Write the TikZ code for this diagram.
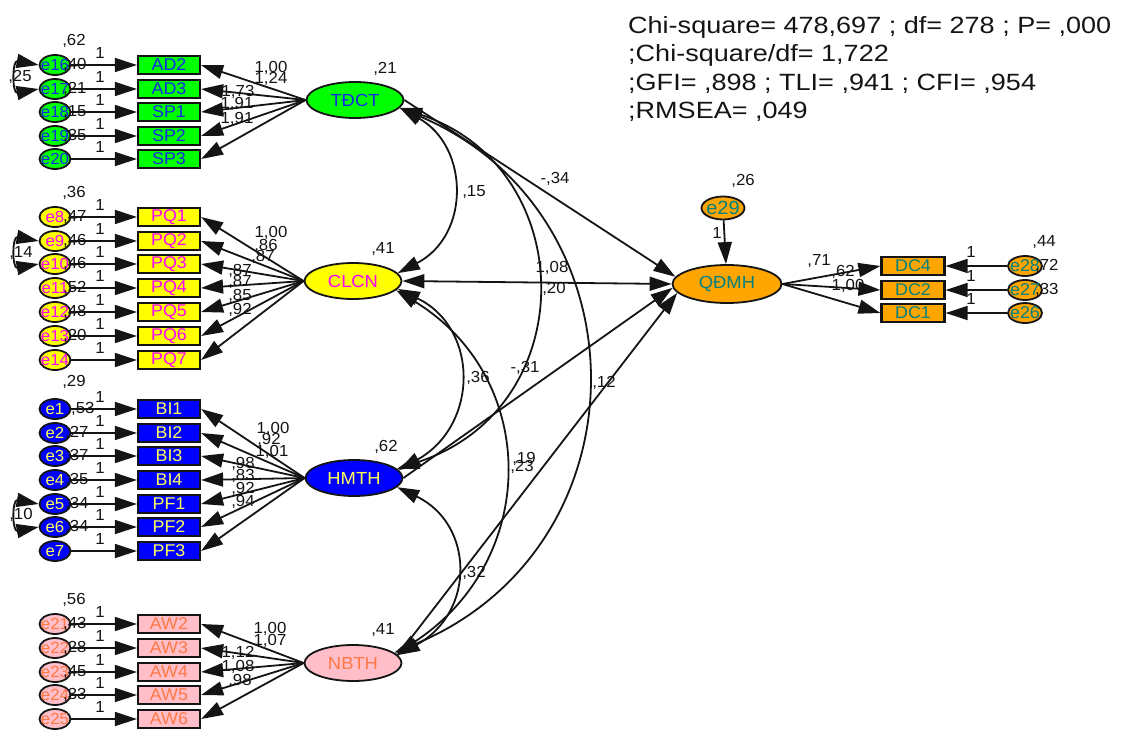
\documentclass[tikz,border=0pt]{standalone}
\usepackage{fontspec}
\setmainfont{Liberation Sans}[FakeStretch=1.05]
\newfontfamily\hdrfont{Liberation Sans}[FakeStretch=1.15]
\usetikzlibrary{arrows.meta,shapes.geometric}

\definecolor{grnF}{RGB}{0,255,0}
\definecolor{grnT}{RGB}{20,40,230}
\definecolor{yelF}{RGB}{255,255,0}
\definecolor{yelT}{RGB}{255,0,255}
\definecolor{bluF}{RGB}{0,0,255}
\definecolor{bluT}{RGB}{255,255,90}
\definecolor{pnkF}{RGB}{255,190,200}
\definecolor{pnkT}{RGB}{255,120,70}
\definecolor{orgF}{RGB}{255,165,0}
\definecolor{orgT}{RGB}{0,128,128}
\definecolor{ink}{RGB}{20,20,20}

\begin{document}
\begin{tikzpicture}[x=1pt,y=-1pt,
  lat/.style={ellipse, draw=ink, line width=1.8pt, minimum width=97pt,
    minimum height=36pt, inner sep=0pt, font=\fontsize{17.5}{17.5}\selectfont},
  obs/.style={rectangle, draw=ink, line width=2.2pt, minimum width=62pt,
    minimum height=18pt, inner sep=0pt, font=\fontsize{17}{17}\selectfont},
  err/.style={ellipse, draw=ink, line width=1.8pt, minimum width=31pt,
    minimum height=20pt, inner sep=0pt},
  etx/.style={inner sep=0pt, font=\fontsize{16}{16}\selectfont},
  ar/.style={-{Triangle[length=22pt,width=14pt]}, line width=1.8pt, draw=ink},
  cov/.style={{Triangle[length=22pt,width=14pt]}-{Triangle[length=22pt,width=14pt]},
    line width=1.8pt, draw=ink},
  num/.style={inner sep=0pt, text=ink, font=\fontsize{16}{16}\selectfont},
  hdr/.style={inner sep=0pt, anchor=base west, text=ink,
    font=\hdrfont\fontsize{23.5}{23.5}\selectfont}]
\useasboundingbox (0,0) rectangle (1125,731);

% ---------------- latent variables ----------------
\node[lat, fill=grnF, text=grnT] (TDCT) at (355,100) {TĐCT};
\node[lat, fill=yelF, text=yelT] (CLCN) at (353,281) {CLCN};
\node[lat, fill=bluF, text=bluT] (HMTH) at (354,478) {HMTH};
\node[lat, fill=pnkF, text=pnkT] (NBTH) at (353,663) {NBTH};
\node[lat, fill=orgF, text=orgT, minimum width=109pt, minimum height=38pt] (QDMH) at (727,284) {QĐMH};

% ---------------- TĐCT block ----------------
\foreach \en/\bn/\yy/\vv in {e16/AD2/65/{,40}, e17/AD3/89/{,21}, e18/SP1/112/{,15},
    e19/SP2/136/{,35}, e20/SP3/159/{}}{
  \node[err, fill=grnF, label={[etx, text=grnT]center:\en}] (\en) at (55,\yy) {};
  \node[obs, fill=grnF, text=grnT] (\bn) at (169,\yy) {\bn};
  \draw[ar] (\en) -- (\bn);
  \draw[ar] (TDCT.west) -- (\bn.east);
  \node[num, anchor=west] (v\en) at (63,\yy) {\vv};
  \node[num] (one\en) at (100,\yy-12) {1};
}

% ---------------- CLCN block ----------------
\foreach \en/\bn/\yy/\vv in {e8/PQ1/217/{,47}, e9/PQ2/241/{,46}, e10/PQ3/264/{,46},
    e11/PQ4/288/{,52}, e12/PQ5/312/{,48}, e13/PQ6/336/{,20}, e14/PQ7/360/{}}{
  \node[err, fill=yelF, label={[etx, text=yelT]center:\en}] (\en) at (55,\yy) {};
  \node[obs, fill=yelF, text=yelT] (\bn) at (169,\yy) {\bn};
  \draw[ar] (\en) -- (\bn);
  \draw[ar] (CLCN.west) -- (\bn.east);
  \node[num, anchor=west] (v\en) at (63,\yy) {\vv};
  \node[num] (one\en) at (100,\yy-12) {1};
}

% ---------------- HMTH block ----------------
\foreach \en/\bn/\yy/\vv/\vx in {e1/BI1/409/{,53}/71, e2/BI2/433/{,27}/65, e3/BI3/456/{,37}/65,
    e4/BI4/480/{,35}/65, e5/PF1/504/{,34}/65, e6/PF2/527/{,34}/65, e7/PF3/551/{}/65}{
  \node[err, fill=bluF, label={[etx, text=bluT]center:\en}] (\en) at (55,\yy) {};
  \node[obs, fill=bluF, text=bluT] (\bn) at (169,\yy) {\bn};
  \draw[ar] (\en) -- (\bn);
  \draw[ar] (HMTH.west) -- (\bn.east);
  \node[num, anchor=west] (v\en) at (\vx,\yy) {\vv};
  \node[num] (one\en) at (100,\yy-12) {1};
}

% ---------------- NBTH block ----------------
\foreach \en/\bn/\yy/\vv in {e21/AW2/624/{,43}, e22/AW3/648/{,28}, e23/AW4/672/{,45},
    e24/AW5/695/{,33}, e25/AW6/719/{}}{
  \node[err, fill=pnkF, label={[etx, text=pnkT]center:\en}] (\en) at (55,\yy) {};
  \node[obs, fill=pnkF, text=pnkT] (\bn) at (169,\yy) {\bn};
  \draw[ar] (\en) -- (\bn);
  \draw[ar] (NBTH.west) -- (\bn.east);
  \node[num, anchor=west] (v\en) at (63,\yy) {\vv};
  \node[num] (one\en) at (100,\yy-12) {1};
}

% ---------------- QĐMH block ----------------
\node[err, fill=orgF, minimum width=43pt, minimum height=23pt,
  label={[etx, text=orgT, font=\fontsize{19}{19}\selectfont]center:e29}] (e29) at (723,208) {};
\draw[ar] (e29) -- (QDMH);
\node[num] (one29) at (717,233) {1};
\node[num] (ve29) at (743,181) {,26};
\foreach \en/\bn/\yy/\vv in {e28/DC4/266/{,72}, e27/DC2/290/{,33}, e26/DC1/313/{}}{
  \node[err, fill=orgF, minimum width=34pt,
    label={[etx, text=orgT, font=\fontsize{17}{17}\selectfont]center:\en}] (\en) at (1025,\yy) {};
  \node[obs, fill=orgF, text=orgT, minimum width=63pt] (\bn) at (913,\yy) {\bn};
  \draw[ar] (\en) -- (\bn);
  \draw[ar] (QDMH.east) -- (\bn.west);
  \node[num, anchor=west] (v\en) at (1035,\yy) {\vv};
  \node[num] (one\en) at (971,\yy-14) {1};
}
\node[num] (ve28) at (1044,242) {,44};

% ---------------- variances of first error terms ----------------
\node[num] (ve16) at (74,41) {,62};
\node[num] (ve8) at (74,193) {,36};
\node[num] (ve1) at (74,382) {,29};
\node[num] (ve21) at (74,600) {,56};

% ---------------- error covariances ----------------
\node[num] (c1617) at (20,77) {,25};
\node[num] (c0910) at (21,253) {,14};
\node[num] (c0506) at (21,515) {,10};
\draw[cov] (e16.west) .. controls (12,60) and (12,94) .. (e17.west);
\draw[cov] (e9.west) .. controls (12,236) and (12,269) .. (e10.west);
\draw[cov] (e5.west) .. controls (12,499) and (12,532) .. (e6.west);

% ---------------- factor loadings ----------------
\foreach \tx/\xx/\yy [count=\i] in {{1,00}/271/68, {1,24}/271/79, {1,73}/238/92, {1,91}/237/104, {1,91}/237/119,
    {1,00}/271/233, {,86}/266/246, {,87}/263/257, {,87}/240/271, {,87}/240/282, {,85}/240/296, {,92}/240/310,
    {1,00}/273/429, {,92}/269/440, {1,01}/272/452, {,98}/243/464, {,83}/243/476, {,92}/243/489, {,94}/243/502,
    {1,00}/270/629, {1,07}/270/641, {1,12}/238/653, {1,08}/238/667, {,98}/240/681,
    {,71}/819/261, {,62}/843/272, {1,00}/848/286}{
  \node[num] (ld\i) at (\xx,\yy) {\tx};
}

% ---------------- latent variances ----------------
\node[num] (vTDCT) at (385,69) {,21};
\node[num] (vCLCN) at (383,249) {,41};
\node[num] (vHMTH) at (386,447) {,62};
\node[num] (vNBTH) at (383,630) {,41};

% ---------------- latent covariances ----------------
\draw[cov] (TDCT.-10) .. controls (469,146) and (471,235) .. (CLCN.10);
\draw[cov] (TDCT.-10) .. controls (580,167) and (584,408) .. (HMTH.12);
\draw[cov] (TDCT.-10) .. controls (648,213) and (650,547) .. (NBTH.14);
\draw[cov] (CLCN.-10) .. controls (479,328) and (479,425) .. (HMTH.10);
\draw[cov] (CLCN.-12) .. controls (540,378) and (540,560) .. (NBTH.12);
\draw[cov] (HMTH.-12) .. controls (474,524) and (476,612) .. (NBTH.10);

% ---------------- structural paths ----------------
\draw[ar] (TDCT.east) -- (QDMH.172);
\draw[cov] (CLCN.east) -- (QDMH.west);
\draw[ar] (HMTH.east) -- (QDMH.184);
\draw[ar] (NBTH.10) -- (QDMH.190);

\node[num] (s1) at (555,179) {-,34};
\node[num] (s2) at (474,192) {,15};
\node[num] (s3) at (552,268) {1,08};
\node[num] (s4) at (554,289) {,20};
\node[num] (s5) at (478,378) {,36};
\node[num] (s6) at (525,368) {-,31};
\node[num] (s7) at (524,459) {,19};
\node[num] (s8) at (522,467) {,23};
\node[num] (s9) at (604,383) {,12};
\node[num] (s10) at (474,573) {,32};

% ---------------- fit statistics ----------------
\node[hdr] (fit1) at (628,33) {Chi-square= 478,697 ; df= 278 ; P= ,000};
\node[hdr] (fit2) at (628,61.5) {;Chi-square/df= 1,722};
\node[hdr] (fit3) at (628,90) {;GFI= ,898 ; TLI= ,941 ; CFI= ,954};
\node[hdr] (fit4) at (628,118) {;RMSEA= ,049};
\end{tikzpicture}
\end{document}
